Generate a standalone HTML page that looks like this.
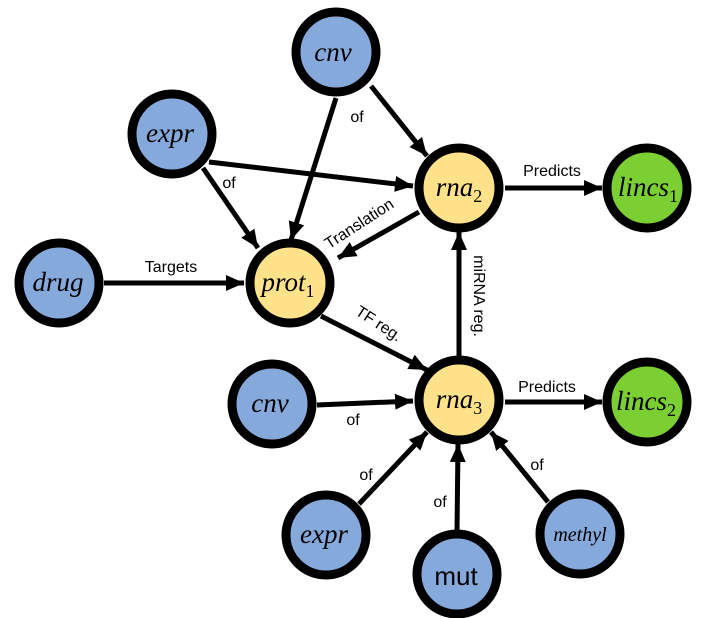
<!DOCTYPE html>
<html><head><meta charset="utf-8"><style>
html,body{margin:0;padding:0;background:#fff;}
svg{display:block;}
.n{stroke:#000;stroke-width:9;}
.b{fill:#86a9dc;}.y{fill:#ffe28a;}.g{fill:#7ccf33;}
.t{font-family:"Liberation Serif",serif;font-style:italic;font-size:27px;text-anchor:middle;}
.l{font-family:"Liberation Sans",sans-serif;font-size:16px;text-anchor:middle;}
.e{stroke:#000;stroke-width:5;marker-end:url(#a);}
</style></head><body>
<svg width="726" height="618" viewBox="0 0 726 618" xmlns="http://www.w3.org/2000/svg">
<defs><marker id="a" markerUnits="userSpaceOnUse" markerWidth="20" markerHeight="18" refX="18" refY="8" orient="auto"><path d="M0,0 L18,8 L0,16 z" fill="#000"/></marker></defs>
<line class="e" x1="371" y1="86" x2="427" y2="156"/>
<line class="e" x1="336" y1="98" x2="291" y2="240"/>
<line class="e" x1="209" y1="162" x2="413" y2="186"/>
<line class="e" x1="203" y1="168" x2="258" y2="248"/>
<line class="e" x1="104" y1="283" x2="244" y2="283"/>
<line class="e" x1="419" y1="212" x2="338" y2="258"/>
<line class="e" x1="505" y1="188" x2="602" y2="188"/>
<line class="e" x1="321" y1="316" x2="427" y2="370"/>
<line class="e" x1="459" y1="356" x2="459" y2="232"/>
<line class="e" x1="317" y1="405" x2="413" y2="401"/>
<line class="e" x1="505" y1="402" x2="602" y2="402"/>
<line class="e" x1="359" y1="504" x2="427" y2="432"/>
<line class="e" x1="457" y1="532" x2="458" y2="444"/>
<line class="e" x1="548" y1="502" x2="491" y2="432"/>
<circle class="n b" cx="336" cy="52" r="40"/>
<circle class="n b" cx="172" cy="134" r="40"/>
<circle class="n b" cx="59" cy="283" r="40"/>
<circle class="n y" cx="290" cy="283" r="40"/>
<circle class="n y" cx="459" cy="188" r="40"/>
<circle class="n g" cx="647" cy="188" r="40"/>
<circle class="n b" cx="272" cy="404" r="40"/>
<circle class="n y" cx="459" cy="400" r="40"/>
<circle class="n g" cx="647" cy="402" r="40"/>
<circle class="n b" cx="326" cy="535" r="40"/>
<circle class="n b" cx="457" cy="574" r="40"/>
<circle class="n b" cx="580" cy="534" r="40"/>
<text class="t" x="333" y="61">cnv</text>
<text class="t" x="170" y="142">expr</text>
<text class="t" x="58" y="291">drug</text>
<text class="t" x="288" y="291">prot<tspan font-style="normal" font-size="18" dy="6">1</tspan></text>
<text class="t" x="459" y="196">rna<tspan font-style="normal" font-size="18" dy="6">2</tspan></text>
<text class="t" x="648" y="196">lincs<tspan font-style="normal" font-size="18" dy="6">1</tspan></text>
<text class="t" x="270" y="412">cnv</text>
<text class="t" x="459" y="408">rna<tspan font-style="normal" font-size="18" dy="6">3</tspan></text>
<text class="t" x="646" y="410">lincs<tspan font-style="normal" font-size="18" dy="6">2</tspan></text>
<text class="t" x="324" y="543">expr</text>
<text class="t" x="580" y="541" style="font-size:20px">methyl</text>
<text x="456" y="585" style="font-family:'Liberation Sans',sans-serif;font-size:26px;text-anchor:middle">mut</text>
<text class="l" x="357" y="122">of</text>
<text class="l" x="229" y="188">of</text>
<text class="l" x="552" y="176">Predicts</text>
<text class="l" x="171" y="272">Targets</text>
<text class="l" transform="translate(362,228) rotate(-33)">Translation</text>
<text class="l" transform="translate(376,328) rotate(33)">TF reg.</text>
<text class="l" transform="translate(474,296) rotate(90)">miRNA reg.</text>
<text class="l" x="547" y="392">Predicts</text>
<text class="l" x="353" y="425">of</text>
<text class="l" x="366" y="480">of</text>
<text class="l" x="440" y="507">of</text>
<text class="l" x="537" y="470">of</text>
</svg>
</body></html>
